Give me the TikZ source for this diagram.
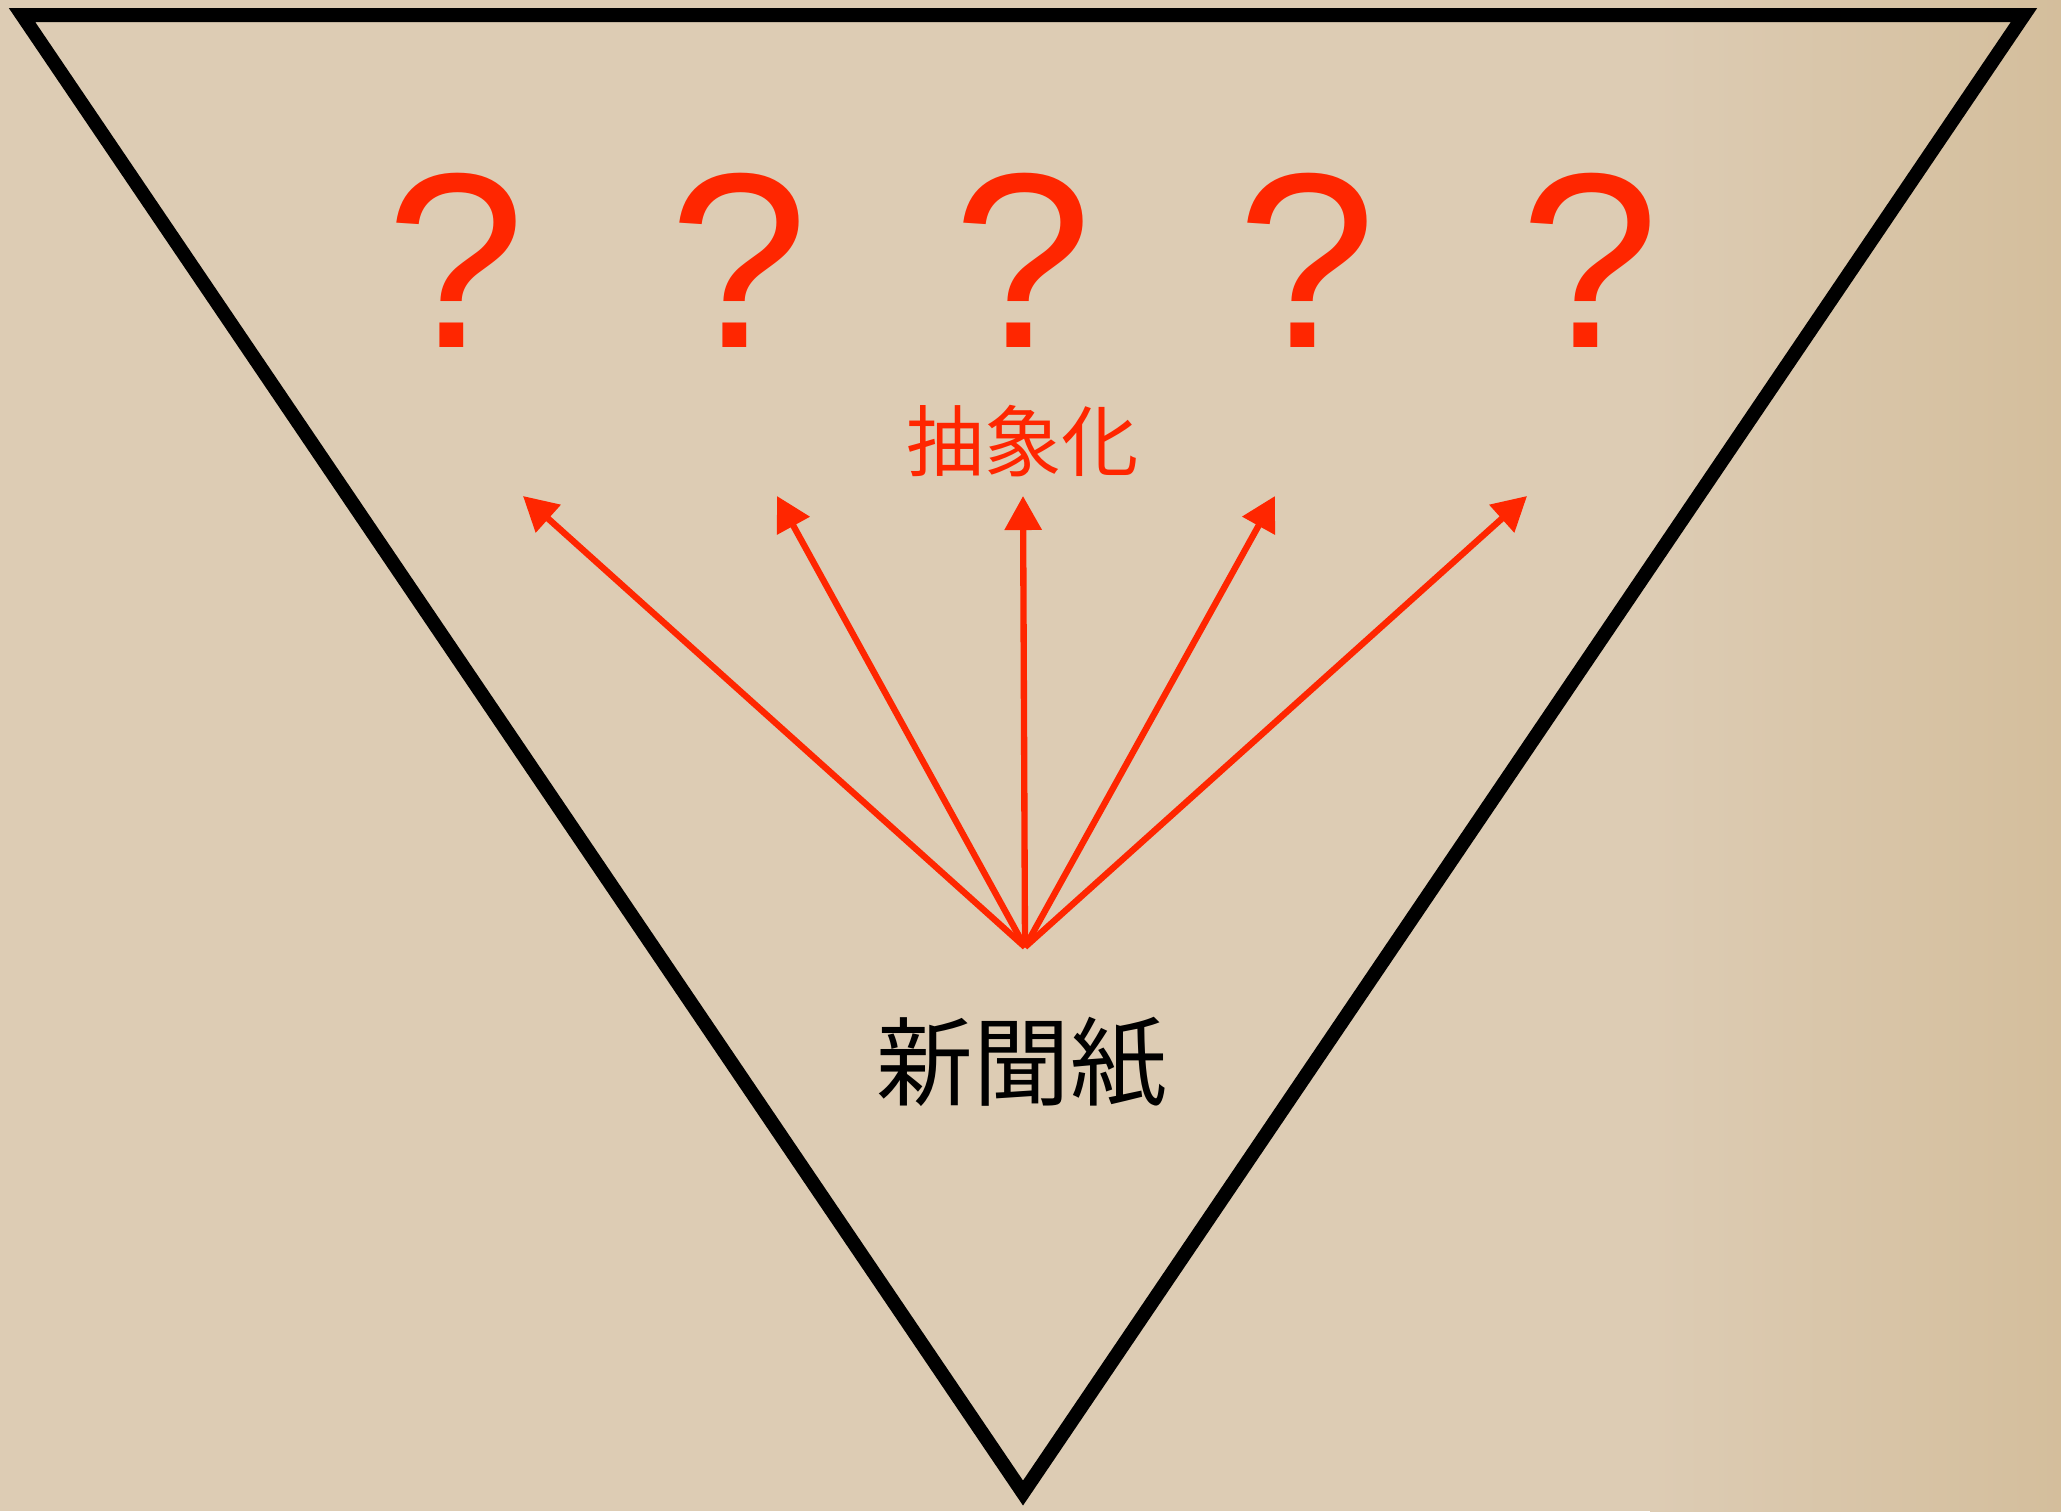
\documentclass[tikz,border=0pt]{standalone}
\usepackage{fontspec}
\setmainfont{Liberation Sans}
\newfontfamily\jpfont{Noto Sans CJK JP}
\usetikzlibrary{arrows.meta}
\definecolor{paper}{RGB}{221,204,180}
\definecolor{paperdark}{RGB}{212,190,156}
\definecolor{kred}{RGB}{255,38,0}
\tikzset{
  frame/.style={line width=3.98pt, draw=black, line join=miter},
  qmark/.style={anchor=base, inner sep=0pt, text=kred, font=\fontsize{71}{71}\selectfont},
  redlabel/.style={inner sep=0pt, text=kred, font=\jpfont\fontsize{22}{22}\selectfont},
  blacklabel/.style={inner sep=0pt, text=black, font=\jpfont\fontsize{27.5}{27.5}\selectfont},
  ray/.style={draw=kred, line width=1.8pt, -{Triangle[length=3.4mm,width=3.6mm]}}
}
\begin{document}
\begin{tikzpicture}[x=0.01cm,y=-0.01cm]
\useasboundingbox (0,0) rectangle (2061,1511);
\fill[paper] (0,0) rectangle (2061,1511);
\shade[left color=paper, right color=paperdark] (1650,0) rectangle (2061,1511);
% triangle
\coordinate (A) at (22,15);
\coordinate (B) at (2024,15);
\coordinate (C) at (1023,1493);
\draw[frame] (A) -- (B) -- (C) -- cycle;
% question marks
\node[qmark] (q1) at (456,347) {?};
\node[qmark] (q2) at (739,347) {?};
\node[qmark] (q3) at (1023,347) {?};
\node[qmark] (q4) at (1307,347) {?};
\node[qmark] (q5) at (1590,347) {?};
% labels
\node[redlabel] (abs) at (1023,441) {抽象化};
\node[blacklabel] (news) at (1022,1063) {新聞紙};
% arrows
\coordinate (o) at (1025,947);
\coordinate (t1) at (523,496);
\coordinate (t2) at (777,496);
\coordinate (t3) at (1023,496);
\coordinate (t4) at (1275,496);
\coordinate (t5) at (1527,496);
\draw[ray] (o) -- (t1);
\draw[ray] (o) -- (t2);
\draw[ray] (o) -- (t3);
\draw[ray] (o) -- (t4);
\draw[ray] (o) -- (t5);
\end{tikzpicture}
\end{document}
